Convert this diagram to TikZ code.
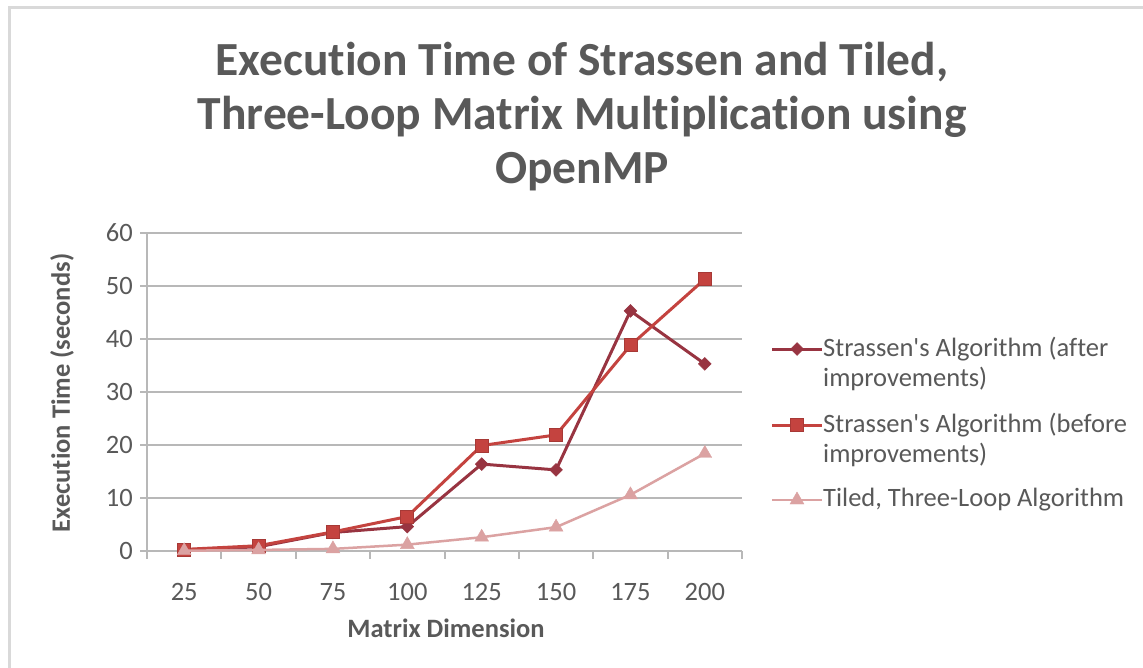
\documentclass[tikz,border=0pt]{standalone}
\usepackage{fontspec}
\newfontfamily\carl{Carlito}[Ligatures=CommonOff]
\usetikzlibrary{shapes.geometric}
\definecolor{tc}{HTML}{595959}
\definecolor{gridc}{HTML}{B8B8B8}
\definecolor{framec}{HTML}{D9D9D9}
\definecolor{colA}{HTML}{983441}
\definecolor{colB}{HTML}{C4433F}
\definecolor{colC}{HTML}{DBA2A2}
\begin{document}
\begin{tikzpicture}[x=1pt,y=-1pt,
  lbl/.style={text=tc, inner sep=0pt, font=\carl\fontsize{26.5}{30}\selectfont},
  axtitle/.style={text=tc, inner sep=0pt, font=\carl\bfseries\fontsize{26.5}{30}\selectfont},
  titletxt/.style={text=tc, inner sep=0pt, align=center, font=\carl\bfseries\fontsize{47.5}{54}\selectfont},
  legtxt/.style={text=tc, inner sep=0pt, align=left, anchor=north west, font=\carl\fontsize{26.5}{30}\selectfont},
  gridline/.style={draw=gridc, line width=2pt},
  serA/.style={draw=colA, line width=3pt, line join=round},
  serB/.style={draw=colB, line width=3pt, line join=round},
  serC/.style={draw=colC, line width=2.5pt, line join=round},
  mkA/.style={diamond, fill=colA, draw=colA, line width=0.5pt, minimum size=13pt, inner sep=0pt},
  mkB/.style={rectangle, fill=colB, draw=colB!85!black, line width=0.8pt, minimum size=13pt, inner sep=0pt},
  mkC/.style={regular polygon, regular polygon sides=3, fill=colC, draw=colC, minimum size=16pt, inner sep=0pt}]
\useasboundingbox (0,0) rectangle (1143,668);
\fill[white] (0,0) rectangle (1143,668);
\draw[framec, line width=3pt] (9,668) -- (9,8) -- (1143,8);
% title
\node[titletxt] (title) at (582,117) {Execution Time of Strassen and Tiled,\\Three-Loop Matrix Multiplication using\\OpenMP};
% grid and y labels
\foreach \v [count=\k] in {0,10,20,30,40,50,60} {
  \coordinate (gl\k) at (140,{551-5.3*\v});
  \coordinate (gr\k) at (742,{551-5.3*\v});
  \draw[gridline] (gl\k) -- (gr\k);
  \node[lbl, anchor=east] (yl\k) at (133,{551-5.3*\v}) {\v};
}
% axes
\coordinate (ax0) at (147,551);
\coordinate (ax1) at (742,551);
\coordinate (ay1) at (147,233);
\draw[gridline] (ay1) -- (ax0) -- (ax1);
\foreach \k in {0,...,8} {
  \coordinate (tk\k) at ({147+74.375*\k},551);
  \coordinate (tb\k) at ({147+74.375*\k},559);
  \draw[gridline] (tk\k) -- (tb\k);
}
% x labels
\foreach \t [count=\i] in {25,50,75,100,125,150,175,200}
  \node[lbl] (xl\i) at ({147+74.375*(\i-0.5)},592) {\t};
\node[axtitle] (xtitle) at (446,628) {Matrix Dimension};
\node[axtitle, rotate=90] (ytitle) at (62,393) {Execution Time (seconds)};
% data
\foreach \v [count=\i] in {0.2,0.8,3.5,4.6,16.4,15.3,45.3,35.3}
  \coordinate (a\i) at ({147+74.375*(\i-0.5)},{551-5.3*\v});
\foreach \v [count=\i] in {0.3,1.0,3.6,6.5,19.9,21.9,38.8,51.3}
  \coordinate (b\i) at ({147+74.375*(\i-0.5)},{551-5.3*\v});
\foreach \v [count=\i] in {0.05,0.2,0.4,1.2,2.6,4.5,10.6,18.4}
  \coordinate (c\i) at ({147+74.375*(\i-0.5)},{551-5.3*\v});
\draw[serA] (a1) -- (a2) -- (a3) -- (a4) -- (a5) -- (a6) -- (a7) -- (a8);
\foreach \i in {1,...,8} \node[mkA] (ma\i) at (a\i) {};
\draw[serB] (b1) -- (b2) -- (b3) -- (b4) -- (b5) -- (b6) -- (b7) -- (b8);
\foreach \i in {1,...,8} \node[mkB] (mb\i) at (b\i) {};
\draw[serC] (c1) -- (c2) -- (c3) -- (c4) -- (c5) -- (c6) -- (c7) -- (c8);
\foreach \i in {1,...,8} \node[mkC] (mc\i) at (c\i) {};
% legend
\coordinate (la1) at (772,349); \coordinate (lb1) at (822,349);
\draw[serA] (la1) -- (lb1);
\node[mkA] (lm1) at (797,349) {};
\node[legtxt] (lt1) at (823,337) {Strassen's Algorithm (after\\improvements)};
\coordinate (la2) at (772,425); \coordinate (lb2) at (822,425);
\draw[serB] (la2) -- (lb2);
\node[mkB] (lm2) at (797,425) {};
\node[legtxt] (lt2) at (823,413) {Strassen's Algorithm (before\\improvements)};
\coordinate (la3) at (772,500); \coordinate (lb3) at (822,500);
\draw[serC] (la3) -- (lb3);
\node[mkC] (lm3) at (797,500) {};
\node[legtxt] (lt3) at (823,488) {Tiled, Three-Loop Algorithm};
\end{tikzpicture}
\end{document}
